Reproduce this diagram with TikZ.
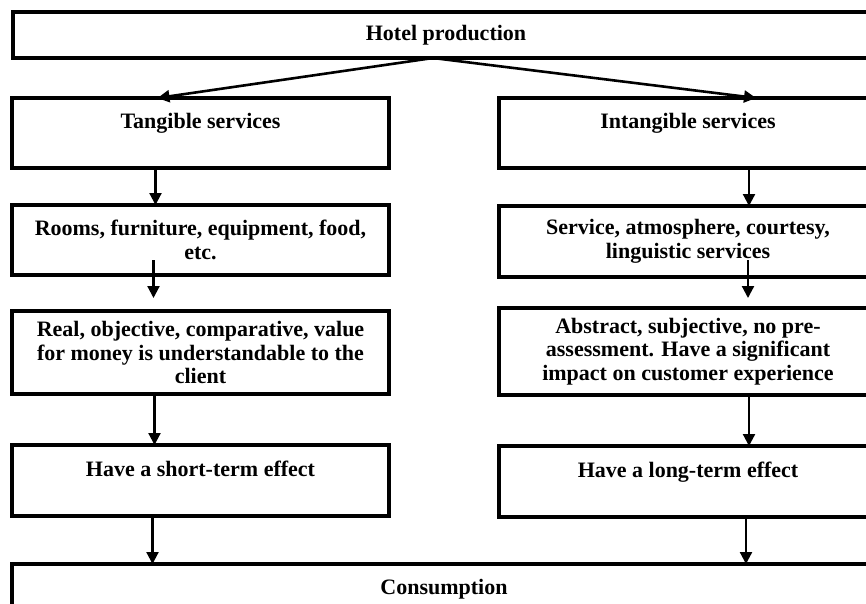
\documentclass[tikz,border=0pt]{standalone}
\usepackage{fontspec}
\setmainfont{Liberation Serif}
\usetikzlibrary{arrows.meta, positioning}

\begin{document}
\begin{tikzpicture}[
            x=1pt, y=-1pt,
            node distance=37pt,
            box/.style={draw, rectangle, line width=3.2pt, inner sep=0pt, outer sep=0pt,
                minimum width=377pt, minimum height=70pt, align=center,
                font=\fontsize{22}{23.5}\selectfont\bfseries},
            arr/.style={draw, line width=2.2pt, -{Triangle[length=12pt, width=12pt]}},
        ]
        \useasboundingbox (0,0) rectangle (866,603);
        \clip (0,0) rectangle (866,603);

        \node[box, minimum width=866pt, minimum height=46pt] (hotel) at (446,35) {Hotel production};

        % left column
        \node[box, anchor=north west] (tangible) at (12,98) {Tangible services\\~};
        \node[box, below=37pt of tangible] (rooms) {Rooms, furniture, equipment, food,\\ etc.};
        \node[box, below=36pt of rooms, minimum height=83pt] (real) {Real, objective, comparative, value\\ for money is understandable to the\\ client};
        \node[box, below=51pt of real, minimum height=71pt] (short) {Have a short-term effect\\~};

        % right column
        \node[box, anchor=north west, minimum width=378pt] (intangible) at (499,98) {Intangible services\\~};
        \node[box, below=38pt of intangible, minimum width=378pt, minimum height=71pt] (service) {Service, atmosphere, courtesy,\\ linguistic services};
        \node[box, below=31pt of service, minimum width=378pt, minimum height=87pt] (abstract) {Abstract, subjective, no pre-\\ assessment. Have a significant\\ impact on customer experience};
        \node[box, below=51pt of abstract, minimum width=378pt, minimum height=71pt] (long) {Have a long-term effect\\~};

        \node[box, anchor=north west, minimum width=864pt] (consumption) at (12,564) {Consumption\\~};

        \draw[arr, line width=2.6pt] ([xshift=-13pt]hotel.south) -- ([xshift=-43pt]tangible.north);
        \draw[arr, line width=2.6pt] ([xshift=-13pt]hotel.south) -- ([xshift=68pt]intangible.north);

        \draw[arr] ([xshift=-45pt]tangible.south) -- ([xshift=-45pt]rooms.north);
        \draw[arr] ([xshift=-47pt, yshift=15pt]rooms.south) -- ([xshift=-47pt, yshift=13pt]real.north);
        \draw[arr] ([xshift=-46pt]real.south) -- ([xshift=-46pt]short.north);
        \draw[arr] ([xshift=-48pt]short.south) -- ([xshift=-48pt]short.south |- consumption.north);

        \draw[arr] ([xshift=61pt]intangible.south) -- ([xshift=61pt]service.north);
        \draw[arr] ([xshift=60pt, yshift=17pt]service.south) -- ([xshift=60pt, yshift=10pt]abstract.north);
        \draw[arr] ([xshift=61pt]abstract.south) -- ([xshift=61pt]long.north);
        \draw[arr] ([xshift=58pt]long.south) -- ([xshift=58pt]long.south |- consumption.north);
\end{tikzpicture}
\end{document}
